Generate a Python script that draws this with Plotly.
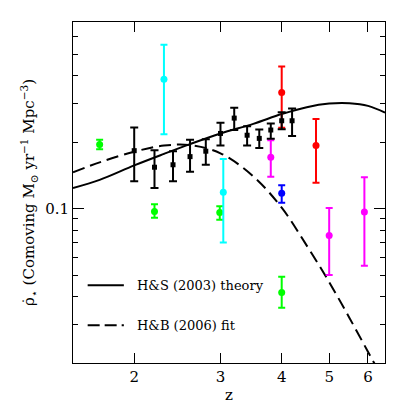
import numpy as np
import plotly.graph_objects as go

# star formation rate density measurements (z, value, upper, lower)
black_z = [2.0, 2.2, 2.4, 2.6, 2.8, 3.0, 3.2, 3.4, 3.6, 3.8, 4.0, 4.2]
black_rho = [0.183, 0.154, 0.158, 0.172, 0.182, 0.219, 0.257, 0.215, 0.208, 0.227, 0.250, 0.250]
black_hi = [0.233, 0.184, 0.182, 0.205, 0.206, 0.245, 0.286, 0.236, 0.228, 0.243, 0.273, 0.284]
black_lo = [0.133, 0.124, 0.133, 0.147, 0.158, 0.193, 0.227, 0.193, 0.188, 0.207, 0.229, 0.213]

green_z = [1.7, 2.2, 2.99, 4.0]
green_rho = [0.195, 0.097, 0.096, 0.0417]
green_hi = [0.205, 0.1046, 0.1024, 0.0491]
green_lo = [0.1855, 0.091, 0.0891, 0.0356]

cyan_z = [2.3, 3.04]
cyan_rho = [0.385, 0.1185]
cyan_hi = [0.552, 0.168]
cyan_lo = [0.217, 0.0702]

blue_z = [4.0]
blue_rho = [0.1173]
blue_hi = [0.1275]
blue_lo = [0.1064]

magenta_z = [3.8, 5.0, 5.9]
magenta_rho = [0.171, 0.0755, 0.0966]
magenta_hi = [0.204, 0.1007, 0.1386]
magenta_lo = [0.1396, 0.0501, 0.0552]

red_z = [4.0, 4.7]
red_rho = [0.336, 0.193]
red_hi = [0.440, 0.2546]
red_lo = [0.2326, 0.131]

# model curves
hs_z = [1.5, 1.7, 2.0, 2.3, 2.6, 3.0, 3.5, 4.0, 4.5, 5.0, 5.5, 6.0, 6.5]
hs_rho = [0.124, 0.135, 0.157, 0.177, 0.196, 0.219, 0.242, 0.268, 0.288, 0.299, 0.300, 0.292, 0.272]
hb_z = [1.5, 1.7, 2.0, 2.3, 2.6, 3.0, 3.5, 4.0, 4.5, 5.0, 5.5, 6.0, 6.2]
hb_rho = [0.146, 0.162, 0.181, 0.193, 0.194, 0.178, 0.140, 0.101, 0.068, 0.0465, 0.032, 0.0225, 0.0197]

FONT = "DejaVu Serif"

fig = go.Figure()

fig.add_trace(go.Scatter(x=hs_z, y=hs_rho, mode='lines', line=dict(color='black', width=2, shape='spline'),
                         showlegend=False, hoverinfo='skip'))
fig.add_trace(go.Scatter(x=hb_z, y=hb_rho, mode='lines',
                         line=dict(color='black', width=2, shape='spline', dash='12px,6px'),
                         showlegend=False, hoverinfo='skip'))

sets = [
    (green_z, green_rho, green_hi, green_lo, '#00ff00', 'circle', 7),
    (cyan_z, cyan_rho, cyan_hi, cyan_lo, '#00ffff', 'circle', 7),
    (blue_z, blue_rho, blue_hi, blue_lo, '#0000ff', 'circle', 7),
    (magenta_z, magenta_rho, magenta_hi, magenta_lo, '#ff00ff', 'circle', 7),
    (red_z, red_rho, red_hi, red_lo, '#ff0000', 'circle', 7),
    (black_z, black_rho, black_hi, black_lo, 'black', 'square', 5),
]
for z, rho, hi, lo, col, sym, sz in sets:
    rho = np.array(rho)
    fig.add_trace(go.Scatter(
        x=z, y=rho, mode='markers',
        marker=dict(color=col, symbol=sym, size=sz),
        error_y=dict(type='data', symmetric=False, array=np.array(hi) - rho, arrayminus=rho - np.array(lo),
                     color=col, thickness=2, width=4 if col == 'black' else 3.5),
        showlegend=False,
    ))

# legend drawn by hand, like the original
fig.add_shape(type='line', xref='paper', yref='paper', x0=0.047, x1=0.163, y0=0.228, y1=0.228,
              line=dict(color='black', width=2))
fig.add_shape(type='line', xref='paper', yref='paper', x0=0.047, x1=0.163, y0=0.111, y1=0.111,
              line=dict(color='black', width=2, dash='12px,5px'))
fig.add_annotation(text='H&S (2003) theory', xref='paper', yref='paper', x=0.199, y=0.228,
                   xanchor='left', yanchor='middle', showarrow=False, font=dict(size=13, color='black'))
fig.add_annotation(text='H&B (2006) fit', xref='paper', yref='paper', x=0.199, y=0.111,
                   xanchor='left', yanchor='middle', showarrow=False, font=dict(size=13, color='black'))

# the page body adds an 8px offset, margins compensate for it
fig.update_layout(
    width=407, height=407,
    margin=dict(l=65, r=30, t=14, b=52),
    paper_bgcolor='white', plot_bgcolor='white',
    font=dict(family=FONT, size=14, color='black'),
    xaxis=dict(type='log', range=[np.log10(1.5), np.log10(6.5)], tickvals=[2, 3, 4, 5, 6],
               ticktext=['2', '3', '4', '5', '6'], ticks='inside', ticklen=10, tickcolor='black',
               showline=True, linecolor='black', linewidth=1, mirror='ticks', showgrid=False, zeroline=False,
               tickfont=dict(size=15), title=dict(text='z', standoff=3, font=dict(size=15))),
    yaxis=dict(type='log', range=[np.log10(0.02), np.log10(0.7)], tickvals=[0.1], ticktext=['0.1'],
               ticks='inside', ticklen=11, tickcolor='black',
               minor=dict(tickvals=[0.02, 0.03, 0.04, 0.05, 0.06, 0.07, 0.08, 0.09, 0.2, 0.3, 0.4, 0.5, 0.6],
                          ticks='inside', ticklen=5, tickcolor='black', showgrid=False),
               showline=True, linecolor='black', linewidth=1, mirror='ticks', showgrid=False, zeroline=False,
               tickfont=dict(size=15),
               title=dict(text='ρ̇<sub>⋆</sub> (Comoving M<sub>⊙</sub> yr<sup>−1</sup> Mpc<sup>−3</sup>)',
                          standoff=6, font=dict(size=15))),
)

fig.write_html("out.html")
